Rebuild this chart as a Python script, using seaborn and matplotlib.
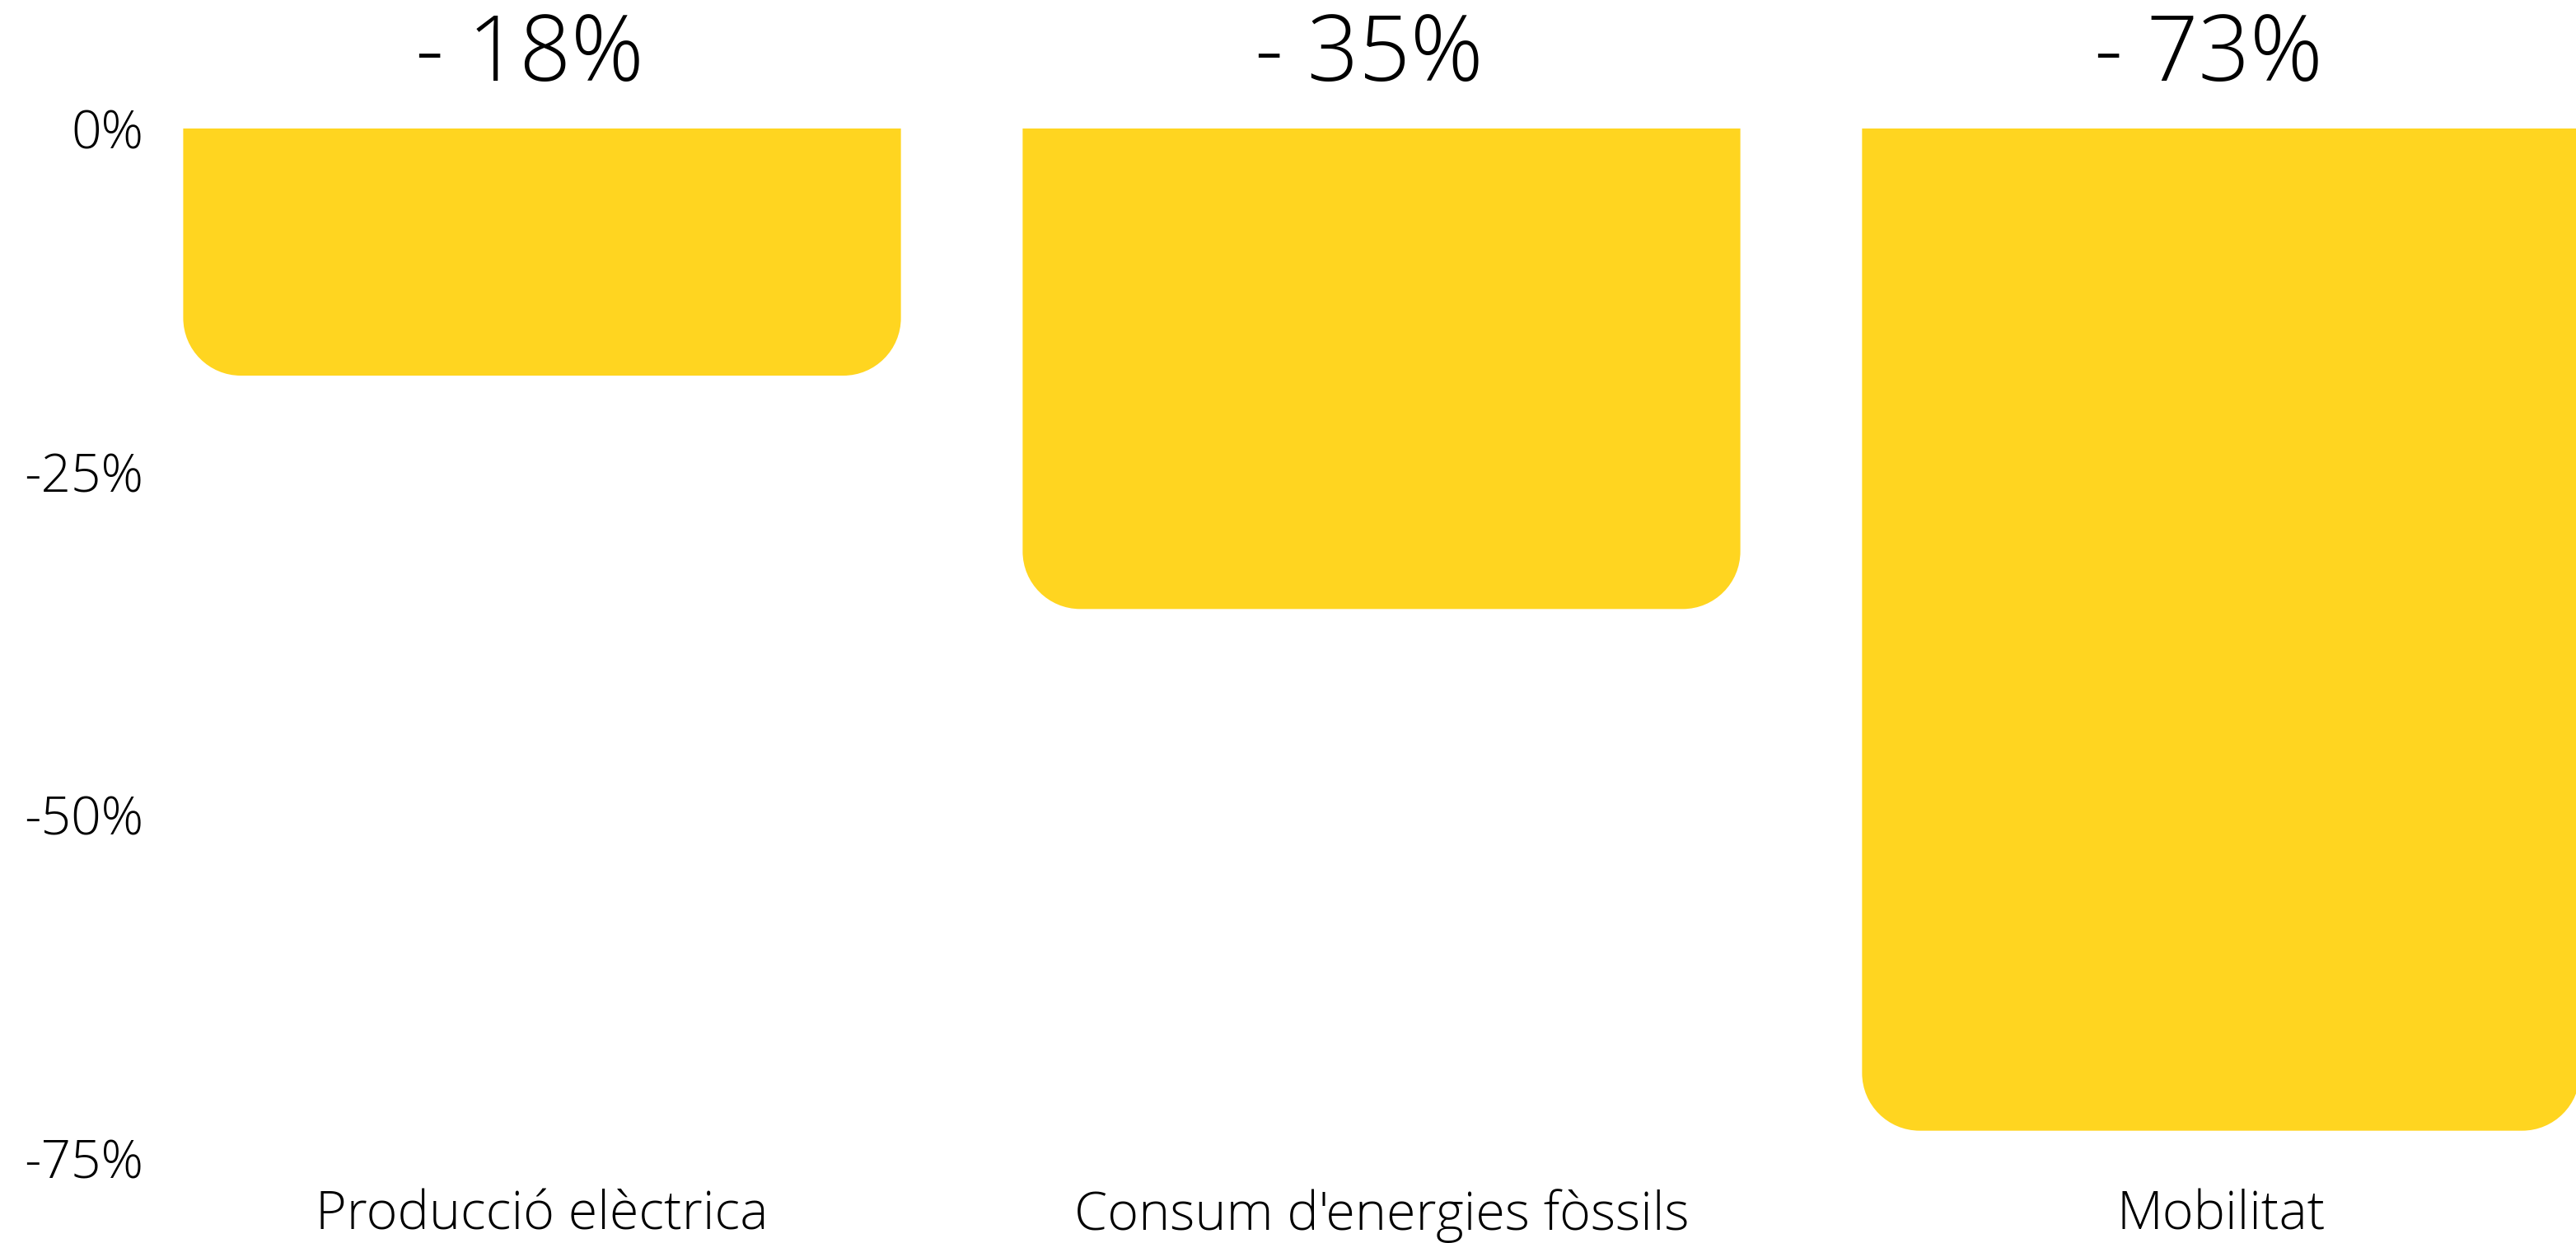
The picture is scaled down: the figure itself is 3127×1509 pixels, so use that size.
import matplotlib
matplotlib.use("Agg")
import matplotlib.pyplot as plt
import seaborn as sns
import numpy as np
from matplotlib.path import Path
from matplotlib.patches import PathPatch

categories = ["Producció elèctrica", "Consum d'energies fòssils", "Mobilitat"]
values = [-18, -35, -73]
ytick_values = [0, -25, -50, -75]
ytick_labels = ["0%", "-25%", "-50%", "-75%"]
bar_color = "#FFD520"

sns.set_theme(style="white")
plt.rcParams['font.family'] = ['Open Sans', 'DejaVu Sans']

W, H = 3127, 1509
fig = plt.figure(figsize=(W / 100, H / 100), dpi=100)
fig.patch.set_facecolor("white")
ax_left, ax_right, ax_top, ax_bottom = 190, 3127, 156, 1406
ax = fig.add_axes([ax_left / W, (H - ax_bottom) / H, (ax_right - ax_left) / W, (ax_bottom - ax_top) / H])
ax.set_facecolor("white")

sns.barplot(x=categories, y=values, color=bar_color, saturation=1, width=0.855, ax=ax, linewidth=0)

ax.set_xlim(-0.4593, 2.423)
ax.set_ylim(-75, 0)

# replace bars with rounded-bottom versions
ax_w_px = ax_right - ax_left
ax_h_px = ax_bottom - ax_top
x_per_px = (2.423 + 0.4593) / ax_w_px
y_per_px = 75 / ax_h_px
r_px = 70
rx = r_px * x_per_px
ry = r_px * y_per_px
k = 0.5523
patches = list(ax.patches)
for p in patches:
    x0 = p.get_x()
    x1 = x0 + p.get_width()
    ya = p.get_y()
    yb = ya + p.get_height()
    top, bot = max(ya, yb), min(ya, yb)
    verts = [
        (x0, top),
        (x0, bot + ry),
        (x0, bot + ry * (1 - k)), (x0 + rx * (1 - k), bot), (x0 + rx, bot),
        (x1 - rx, bot),
        (x1 - rx * (1 - k), bot), (x1, bot + ry * (1 - k)), (x1, bot + ry),
        (x1, top),
        (x0, top),
    ]
    codes = [Path.MOVETO, Path.LINETO,
             Path.CURVE4, Path.CURVE4, Path.CURVE4,
             Path.LINETO,
             Path.CURVE4, Path.CURVE4, Path.CURVE4,
             Path.LINETO, Path.CLOSEPOLY]
    pp = PathPatch(Path(verts, codes), facecolor=bar_color, edgecolor="none", lw=0)
    p.remove()
    ax.add_patch(pp)

# value labels above
for i, v in enumerate(values):
    ax.text(i - 0.015, 5.2, f"- {abs(v)}%", ha="center", va="center", fontsize=79,
            fontweight="light", color="black", clip_on=False)

ax.set_yticks(ytick_values)
ax.set_yticklabels(ytick_labels, fontsize=46, fontweight="light", color="black")
ax.tick_params(axis="y", length=0, pad=11.5)
ax.tick_params(axis="x", length=0, pad=27)
for lbl in ax.get_xticklabels():
    lbl.set_fontsize(46.5)
    lbl.set_fontweight("light")
    lbl.set_color("black")
ax.set_xlabel("")
ax.set_ylabel("")
for s in ax.spines.values():
    s.set_visible(False)
ax.grid(False)

fig.savefig("out.png", dpi=100, facecolor="white")
